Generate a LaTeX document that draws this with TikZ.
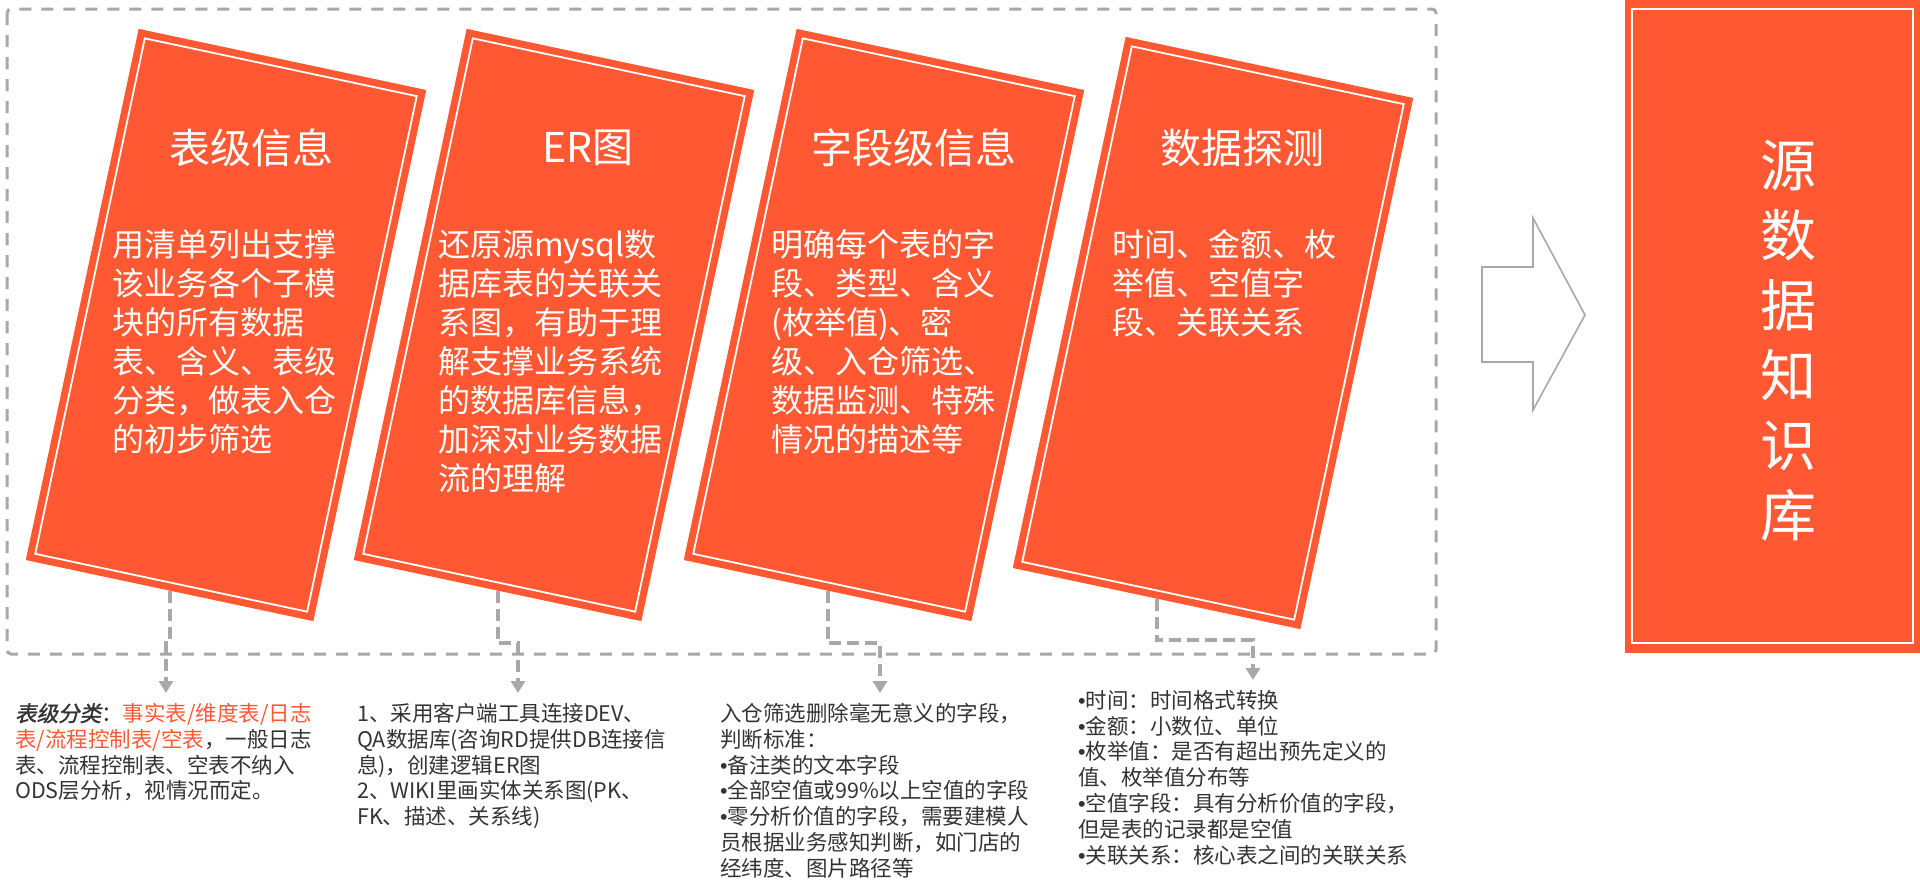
\documentclass[tikz,border=0pt]{standalone}
\usepackage{fontspec}
\setmainfont{Noto Sans CJK SC}
\newfontfamily\slantfont{Noto Sans CJK SC}[FakeSlant=0.2,FakeBold=1.5]
\newfontfamily\dotfont{Liberation Sans}
\newcommand{\bul}{{\dotfont •}}
\usetikzlibrary{arrows.meta}
\definecolor{cardred}{HTML}{FF5833}
\definecolor{linegray}{HTML}{A8A8A8}
\definecolor{notegray}{HTML}{333333}

\begin{document}
\begin{tikzpicture}[x=1pt, y=-1pt,
  card/.style={rectangle, fill=cardred, minimum width=294pt, minimum height=543pt, inner sep=0pt, rotate=-12},
  cardline/.style={rectangle, draw=white, line width=1.8pt, minimum width=278pt, minimum height=527pt, inner sep=0pt, rotate=-12},
  cardtitle/.style={text=white, inner sep=0pt, font=\fontsize{41}{49}\selectfont},
  cardtext/.style={text=white, inner sep=0pt, anchor=north west, align=left, font=\fontsize{32}{39}\selectfont},
  note/.style={text=notegray, inner sep=0pt, anchor=north west, align=left, font=\fontsize{21.5}{25.8}\selectfont},
  link/.style={draw=linegray, line width=4pt, dash pattern=on 12pt off 6pt, -{Triangle[width=14pt,length=12pt]}},
]
\useasboundingbox (0,0) rectangle (1920,892);
\draw[linegray, line width=3pt, dash pattern=on 12pt off 10pt, rounded corners=4pt] (7,9) rectangle (1436,654);

\node[card] (n1) at (226,325) {};
\node[cardline] (n1l) at (n1) {};
\node[cardtitle] (h1) at (251,148) {表级信息};
\node[cardtext] (b1) at (112,229) {用清单列出支撑\\该业务各个子模\\块的所有数据\\表、含义、表级\\分类，做表入仓\\的初步筛选};

\node[card] (n2) at (554,325) {};
\node[cardline] (n2l) at (n2) {};
\node[cardtitle] (h2) at (588,148) {ER图};
\node[cardtext] (b2) at (438,229) {还原源mysql数\\据库表的关联关\\系图，有助于理\\解支撑业务系统\\的数据库信息，\\加深对业务数据\\流的理解};

\node[card] (n3) at (884,325) {};
\node[cardline] (n3l) at (n3) {};
\node[cardtitle] (h3) at (914,148) {字段级信息};
\node[cardtext] (b3) at (771,229) {明确每个表的字\\段、类型、含义\\(枚举值)、密\\级、入仓筛选、\\数据监测、特殊\\情况的描述等};

\node[card] (n4) at (1213,333) {};
\node[cardline] (n4l) at (n4) {};
\node[cardtitle] (h4) at (1242,148) {数据探测};
\node[cardtext] (b4) at (1112,229) {时间、金额、枚\\举值、空值字\\段、关联关系};

\draw[linegray, line width=1.6pt, fill=white] (1482,267) -- (1533,267) -- (1533,218) -- (1585,315) -- (1533,410) -- (1533,362) -- (1482,362) -- cycle;

\node[rectangle, fill=cardred, minimum width=295pt, minimum height=653pt, inner sep=0pt] (kb) at (1772.5,326.5) {};
\node[rectangle, draw=white, line width=1.8pt, minimum width=281pt, minimum height=634pt, inner sep=0pt] (kbl) at (1772.5,326) {};
\node[text=white, inner sep=0pt, align=center, font=\fontsize{56}{70}\selectfont] (kbt) at (1788,341) {源\\数\\据\\知\\识\\库};

\node[note] (d1) at (15,703) {{\slantfont 表级分类}：\textcolor{cardred}{事实表/维度表/日志}\\\textcolor{cardred}{表/流程控制表/空表}，一般日志\\表、流程控制表、空表不纳入\\ODS层分析，视情况而定。};
\node[note] (d2) at (357,703) {1、采用客户端工具连接DEV、\\QA数据库(咨询RD提供DB连接信\\息)，创建逻辑ER图\\2、WIKI里画实体关系图(PK、\\FK、描述、关系线)};
\node[note] (d3) at (720,703) {入仓筛选删除毫无意义的字段，\\判断标准：\\\bul 备注类的文本字段\\\bul 全部空值或99\%以上空值的字段\\\bul 零分析价值的字段，需要建模人\\员根据业务感知判断，如门店的\\经纬度、图片路径等};
\node[note] (d4) at (1078,690) {\bul 时间：时间格式转换\\\bul 金额：小数位、单位\\\bul 枚举值：是否有超出预先定义的\\值、枚举值分布等\\\bul 空值字段：具有分析价值的字段，\\但是表的记录都是空值\\\bul 关联关系：核心表之间的关联关系};

\coordinate (k1) at (166,643);
\coordinate (t1) at (166,693);
\coordinate (k2) at (518,643);
\coordinate (t2) at (518,693);
\coordinate (k3) at (880,643);
\coordinate (t3) at (880,693);
\coordinate (k4) at (1253,640);
\coordinate (t4) at (1253,680);
\draw[link] (n1.south) |- (k1) -- (t1);
\draw[link] (n2.south) |- (k2) -- (t2);
\draw[link] (n3.south) |- (k3) -- (t3);
\draw[link] (n4.south) |- (k4) -- (t4);
\end{tikzpicture}
\end{document}
